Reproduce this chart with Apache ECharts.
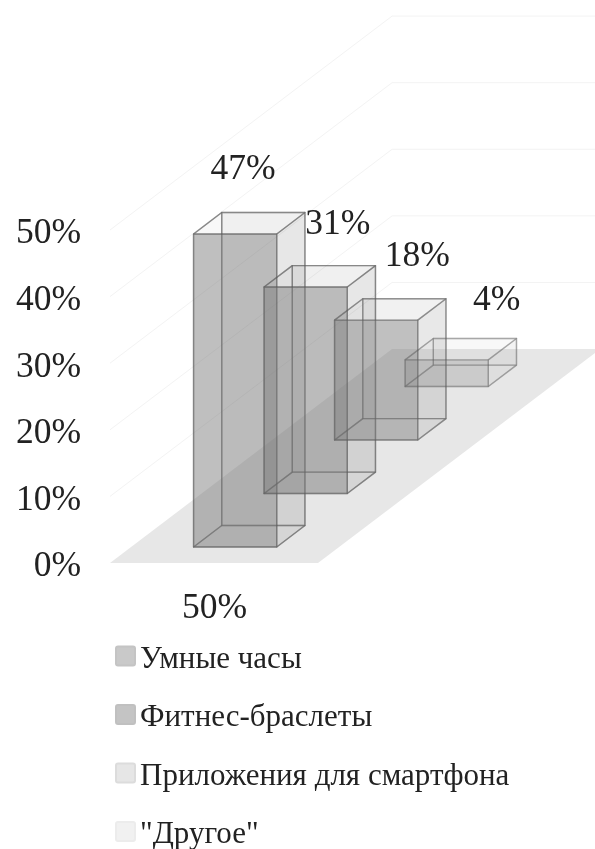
<!DOCTYPE html>
<html>
<head>
<meta charset="utf-8">
<style>html,body{margin:0;padding:0;background:#fff}#chart{width:595px;height:849px}</style>
<script src="https://cdn.jsdelivr.net/npm/echarts@6/dist/echarts.min.js"></script>
</head>
<body>
<div id="chart"></div>
<script>
// Survey shares shown as a 3D column chart, one column per depth row.
const categories = ['Умные часы', 'Фитнес-браслеты', 'Приложения для смартфона', '"Другое"'];
const shares = [47, 31, 18, 4];
const valueTicks = [0, 10, 20, 30, 40, 50];
const floorNote = '50%';

// Presentation settings, kept apart from the data.
const faceStrength = [1, 1, 0.9, 0.5];
const edgeStrength = [0.46, 0.46, 0.42, 0.3];
const legendFill = ['#c9c9c9', '#c4c4c4', '#e6e6e6', '#f1f1f1'];
const legendEdge = ['#c4c4c4', '#c0c0c0', '#dcdcdc', '#ececec'];
const labelShift = [[8, -64], [32, -62], [41, -63], [50, -59]];
const SERIF = '"Liberation Serif", "Times New Roman", serif';
const SWATCH = 'path://M2,0H17A2,2 0 0 1 19,2V17A2,2 0 0 1 17,19H2A2,2 0 0 1 0,17V2A2,2 0 0 1 2,0Z';
const DEPTH_U = 0.339;     // sideways drift per depth row, in floor widths
const DEPTH_V = 8.03;      // upward drift per depth row, in percentage points
const ROWS = categories.length;

// Oblique projection: u across the floor, d into the depth, v in percent.
function project(api, u, d, v) {
  return api.coord([u + d * DEPTH_U, v + d * DEPTH_V]);
}

function poly(points, fill, stroke) {
  return {
    type: 'polygon',
    shape: { points: points },
    style: { fill: fill, stroke: stroke || null, lineWidth: stroke ? 1.4 : 0, lineJoin: 'round' },
    silent: true
  };
}

function renderColumn(params, api) {
  const row = api.value(0);
  const value = api.value(1);
  const k = faceStrength[row];
  const u0 = 0.3, u1 = 0.7, d0 = row + 0.3, d1 = row + 0.7;
  const p = (u, d, v) => project(api, u, d, v);
  const edge = 'rgba(90,90,90,' + edgeStrength[row] + ')';
  const gray = a => 'rgba(118,118,118,' + (a * k) + ')';
  const f0 = p(u0, d0, 0), f1 = p(u1, d0, 0), f2 = p(u1, d0, value), f3 = p(u0, d0, value);
  const b0 = p(u0, d1, 0), b1 = p(u1, d1, 0), b2 = p(u1, d1, value), b3 = p(u0, d1, value);
  const anchor = p(0.5, d0, value);
  const shift = labelShift[row];
  return {
    type: 'group',
    children: [
      poly([b0, b1, b2, b3], gray(0.06), edge),
      poly([f0, f1, b1, b0], gray(0.03), edge),
      poly([f0, b0, b3, f3], 'rgba(0,0,0,0)', edge),
      poly([f1, b1, b2, f2], gray(0.12), edge),
      poly([f3, f2, b2, b3], gray(0.05), edge),
      poly([f0, f1, f2, f3], gray(0.47), edge),
      {
        type: 'text',
        silent: true,
        style: {
          text: value + '%',
          x: anchor[0] + shift[0],
          y: anchor[1] + shift[1],
          fill: '#222',
          font: '35.5px ' + SERIF,
          align: 'center',
          verticalAlign: 'middle'
        }
      }
    ]
  };
}

function renderFloor(params, api) {
  return poly([
    project(api, 0, 0, 0), project(api, 1, 0, 0),
    project(api, 1, ROWS, 0), project(api, 0, ROWS, 0)
  ], '#e7e7e7');
}

function renderWallLine(params, api) {
  const v = api.value(0);
  const front = project(api, 0, 0, v);
  const back = project(api, 0, ROWS, v);
  const end = project(api, 1, ROWS, v);
  return {
    type: 'polyline',
    silent: true,
    shape: { points: [front, back, end] },
    style: { fill: null, stroke: '#f3f3f3', lineWidth: 1 }
  };
}

const chart = echarts.init(document.getElementById('chart'), null, { renderer: 'canvas' });

const columnSeries = categories.map((name, row) => ({
  name: name,
  type: 'custom',
  clip: false,
  z: 3,
  itemStyle: { color: legendFill[row], borderColor: legendEdge[row], borderWidth: 1.5 },
  renderItem: renderColumn,
  data: [[row, shares[row]]]
}));

chart.setOption({
  animation: false,
  backgroundColor: '#fff',
  grid: { left: 110, right: 0, top: 230, bottom: 286 },
  xAxis: { type: 'value', min: 0, max: 485 / 208, show: false },
  yAxis: {
    type: 'value',
    min: valueTicks[0],
    max: valueTicks[valueTicks.length - 1],
    interval: 10,
    axisLine: { show: false },
    axisTick: { show: false },
    splitLine: { show: false },
    axisLabel: {
      formatter: '{t|{value}%}',
      margin: 29,
      rich: {
        t: { color: '#222', fontFamily: SERIF, fontSize: 35.5, padding: [8, 0, 0, 0] }
      }
    }
  },
  legend: {
    data: categories,
    orient: 'vertical',
    left: 115,
    top: 644,
    height: 300,
    padding: 0,
    itemWidth: 19,
    itemHeight: 19,
    itemGap: 27.5,
    icon: SWATCH,
    selectedMode: false,
    formatter: '{t|{name}}',
    textStyle: {
      rich: {
        t: { color: '#222', fontFamily: SERIF, fontSize: 31, padding: [7, 0, 0, 0] }
      }
    }
  },
  graphic: [{
    type: 'text',
    left: 182,
    top: 591,
    silent: true,
    style: { text: floorNote, fill: '#222', font: '35.5px ' + SERIF }
  }],
  series: [
    {
      type: 'custom', clip: false, z: 1, silent: true,
      renderItem: renderFloor, data: [[0]]
    },
    {
      type: 'custom', clip: false, z: 2, silent: true,
      renderItem: renderWallLine, data: valueTicks.slice(1).map(v => [v])
    }
  ].concat(columnSeries)
});
</script>
</body>
</html>
